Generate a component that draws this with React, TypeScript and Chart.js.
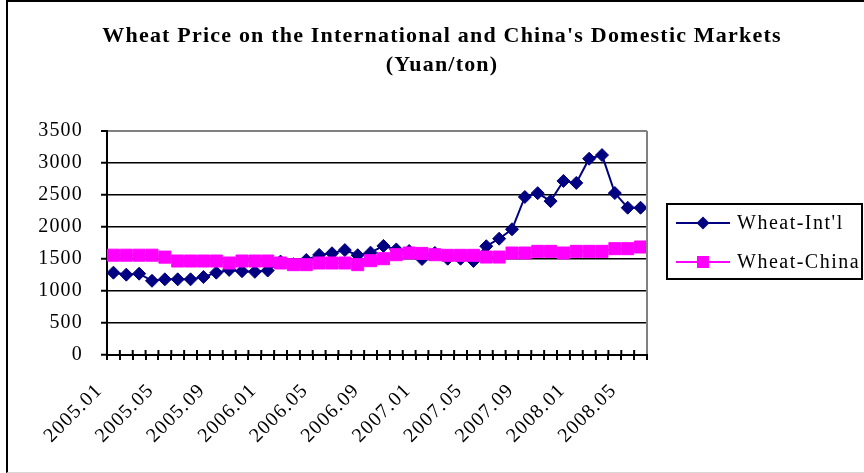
import React, { useEffect, useRef } from 'react';
import { Chart, registerables } from 'chart.js';

Chart.register(...registerables);

const months: string[] = [
  '2005.01', '2005.02', '2005.03', '2005.04', '2005.05', '2005.06', '2005.07', '2005.08', '2005.09', '2005.10', '2005.11', '2005.12',
  '2006.01', '2006.02', '2006.03', '2006.04', '2006.05', '2006.06', '2006.07', '2006.08', '2006.09', '2006.10', '2006.11', '2006.12',
  '2007.01', '2007.02', '2007.03', '2007.04', '2007.05', '2007.06', '2007.07', '2007.08', '2007.09', '2007.10', '2007.11', '2007.12',
  '2008.01', '2008.02', '2008.03', '2008.04', '2008.05', '2008.06',
];

const wheatIntl: number[] = [
  1287, 1256, 1271, 1160, 1183, 1183, 1183, 1219, 1287, 1330, 1310, 1300,
  1320, 1460, 1420, 1485, 1565, 1590, 1640, 1560, 1600, 1705, 1650, 1625,
  1500, 1595, 1505, 1505, 1470, 1700, 1818, 1965, 2470, 2530, 2405, 2720,
  2690, 3068, 3125, 2531, 2302, 2302,
];

const wheatChina: number[] = [
  1560, 1560, 1560, 1560, 1530, 1469, 1469, 1469, 1469, 1438, 1469, 1469,
  1469, 1438, 1412, 1412, 1438, 1438, 1438, 1412, 1474, 1505, 1568, 1594,
  1588, 1568, 1558, 1558, 1558, 1531, 1531, 1594, 1594, 1620, 1620, 1594,
  1620, 1620, 1620, 1662, 1662, 1688,
];

const seriesNames: string[] = ["Wheat-Int'l", 'Wheat-China'];
const titleLines: string[] = ["Wheat Price on the International and China's Domestic Markets", '(Yuan/ton)'];
const yMin = 0;
const yMax = 3500;
const yStep = 500;
const labelEvery = 4;

const NAVY = '#000080';
const MAGENTA = '#FF00FF';
const FONT = "'Liberation Serif', 'Times New Roman', serif";
const SPACING = '1.2px';
const LEGEND_SPACING = '1.5px';

const extrasPlugin = {
  id: 'extras',
  beforeLayout(chart: any) {
    chart.ctx.letterSpacing = SPACING;
  },
  beforeDraw(chart: any) {
    chart.ctx.letterSpacing = SPACING;
  },
  afterDraw(chart: any) {
    const { ctx, chartArea: ca } = chart;
    const xs = chart.scales.x;
    ctx.save();
    // inner half of the crossing x tick marks
    const n = chart.data.labels.length;
    ctx.strokeStyle = '#000';
    ctx.lineWidth = 2;
    for (let i = 0; i <= n; i++) {
      const px = xs.left + (i * xs.width) / n;
      ctx.beginPath();
      ctx.moveTo(px, ca.bottom - 5);
      ctx.lineTo(px, ca.bottom);
      ctx.stroke();
    }
    // right plot border
    ctx.strokeStyle = '#808080';
    ctx.lineWidth = 2;
    ctx.beginPath();
    ctx.moveTo(ca.right, ca.top);
    ctx.lineTo(ca.right, ca.bottom - 1);
    ctx.stroke();

    // legend
    const lg = { left: 667, top: 204, width: 195, height: 75 };
    ctx.strokeStyle = '#000';
    ctx.lineWidth = 2;
    ctx.strokeRect(lg.left, lg.top, lg.width, lg.height);
    chart.data.datasets.forEach((ds: any, i: number) => {
      const y = lg.top + 19 + i * 39;
      ctx.strokeStyle = ds.borderColor;
      ctx.lineWidth = 2;
      ctx.beginPath();
      ctx.moveTo(lg.left + 9, y);
      ctx.lineTo(lg.left + 63, y);
      ctx.stroke();
      const mx = lg.left + 36;
      ctx.fillStyle = ds.borderColor;
      ctx.beginPath();
      if (ds.pointStyle === 'rectRot') {
        const r = 6.5;
        ctx.moveTo(mx, y - r);
        ctx.lineTo(mx + r, y);
        ctx.lineTo(mx, y + r);
        ctx.lineTo(mx - r, y);
        ctx.closePath();
      } else {
        const h = 6;
        ctx.rect(mx - h, y - h, 2 * h, 2 * h);
      }
      ctx.fill();
      ctx.fillStyle = '#000';
      ctx.font = `20px ${FONT}`;
      ctx.letterSpacing = LEGEND_SPACING;
      ctx.textAlign = 'left';
      ctx.textBaseline = 'middle';
      ctx.fillText(ds.label, lg.left + 70, y + 1);
    });
    ctx.restore();
  },
};

export default function App() {
  const ref = useRef<HTMLCanvasElement | null>(null);

  useEffect(() => {
    if (!ref.current) return;
    Chart.defaults.font.family = FONT;
    Chart.defaults.color = '#000';
    const chart = new Chart(ref.current, {
      type: 'line',
      data: {
        labels: months,
        datasets: [
          {
            label: seriesNames[0],
            data: wheatIntl,
            borderColor: NAVY,
            backgroundColor: NAVY,
            borderWidth: 2,
            pointStyle: 'rectRot',
            pointRadius: 6.5,
            pointBorderWidth: 1,
            pointBackgroundColor: NAVY,
            pointBorderColor: NAVY,
            tension: 0,
            order: 1,
          },
          {
            label: seriesNames[1],
            data: wheatChina,
            borderColor: MAGENTA,
            backgroundColor: MAGENTA,
            borderWidth: 2,
            pointStyle: 'rect',
            pointRadius: 8.5,
            pointBorderWidth: 1,
            pointBackgroundColor: MAGENTA,
            pointBorderColor: MAGENTA,
            tension: 0,
            order: 0,
          },
        ],
      },
      options: {
        animation: false,
        responsive: false,
        devicePixelRatio: 1,
        layout: { padding: { left: 20, right: 0, top: 0, bottom: 0 } },
        plugins: {
          legend: { display: false },
          tooltip: { enabled: false },
          title: {
            display: true,
            text: titleLines,
            color: '#000',
            font: { family: FONT, size: 22, weight: 'bold', lineHeight: 1.32 },
            padding: { top: 22, bottom: 51 },
          },
        },
        scales: {
          x: {
            type: 'category',
            offset: true,
            grid: {
              display: true,
              drawOnChartArea: false,
              drawTicks: true,
              tickLength: 5,
              offset: true,
              color: '#000',
              lineWidth: 2,
            },
            border: { display: true, color: '#000', width: 2 },
            ticks: {
              autoSkip: false,
              maxRotation: 45,
              minRotation: 45,
              labelOffset: -14,
              padding: 19,
              color: '#000',
              font: { family: FONT, size: 20 },
              callback: (_v: any, idx: number) => (idx % labelEvery === 0 ? months[idx] : ''),
            },
            afterFit: (s: any) => {
              s.height = 118;
            },
          },
          y: {
            type: 'linear',
            position: 'left',
            min: yMin,
            max: yMax,
            grid: {
              color: (c: any) => (c.tick && c.tick.value === yMax ? '#808080' : '#000'),
              lineWidth: (c: any) => (c.tick && c.tick.value === yMax ? 2 : 1.5),
              tickColor: '#000',
              tickLength: 6,
              tickWidth: 2,
            },
            border: { display: true, color: '#000', width: 2 },
            ticks: {
              stepSize: yStep,
              padding: 18,
              color: '#000',
              font: { family: FONT, size: 20 },
              callback: (v: any) => String(v),
            },
            afterFit: (s: any) => {
              s.width = 87;
            },
          },
          spacer: {
            type: 'linear',
            position: 'right',
            display: true,
            grid: { display: false },
            border: { display: false },
            ticks: { display: false },
            afterFit: (s: any) => {
              s.width = 217;
            },
          },
        },
      },
      plugins: [extrasPlugin],
    } as any);
    return () => chart.destroy();
  }, []);

  return (
    <div style={{ position: 'fixed', left: 0, top: 0, width: 864, height: 473, background: '#fff' }}>
      <canvas ref={ref} width={864} height={473} style={{ display: 'block', width: 864, height: 473 }} />
      <div
        style={{
          position: 'absolute',
          left: 6,
          top: 0,
          width: 870,
          height: 470,
          borderLeft: '2px solid #000',
          borderTop: '2px solid #000',
          borderBottom: '1px solid #d8d8d8',
          pointerEvents: 'none',
        }}
      />
    </div>
  );
}
